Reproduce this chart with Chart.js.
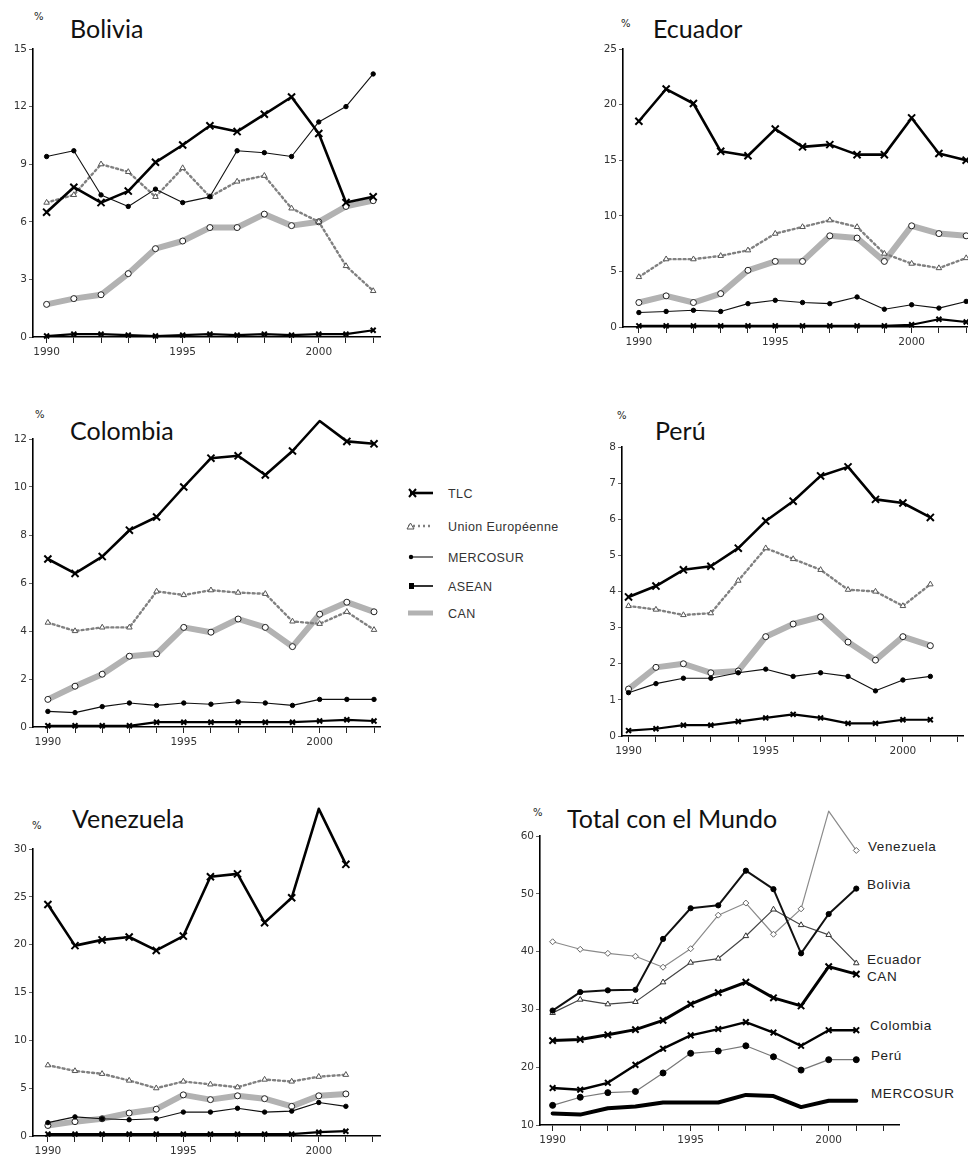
<!DOCTYPE html>
<html><head><meta charset="utf-8">
<script src="https://cdn.jsdelivr.net/npm/chart.js@4.4.1/dist/chart.umd.min.js"></script>
<style>
html,body{margin:0;padding:0;width:968px;height:1160px;overflow:hidden;background:#fff;position:relative;}
canvas{position:absolute;}
.t{position:absolute;font-family:Lato,'Open Sans',sans-serif;font-size:25px;color:#111;white-space:nowrap;line-height:1;}
.p{position:absolute;font-family:'DejaVu Sans',sans-serif;font-size:10px;color:#222;line-height:1;}
.lab{position:absolute;font-family:'Liberation Sans',Arial,sans-serif;font-size:13.5px;color:#222;white-space:nowrap;line-height:1;letter-spacing:0.6px;}
.lg{font-family:'Liberation Sans',Arial,sans-serif;font-size:12.5px;fill:#333;letter-spacing:0.4px;}
</style></head><body>

<div class="t" style="left:70px;top:16px">Bolivia</div>
<div class="t" style="left:653px;top:16px">Ecuador</div>
<div class="t" style="left:70px;top:418px">Colombia</div>
<div class="t" style="left:655px;top:418px">Perú</div>
<div class="t" style="left:72px;top:806px">Venezuela</div>
<div class="t" style="left:567px;top:806px">Total con el Mundo</div>

<div class="p" style="left:34px;top:12px">%</div>
<div class="p" style="left:621px;top:19px">%</div>
<div class="p" style="left:35px;top:410px">%</div>
<div class="p" style="left:617px;top:411px">%</div>
<div class="p" style="left:32px;top:821px">%</div>
<div class="p" style="left:533px;top:808px">%</div>

<div class="lab" style="left:868px;top:840px">Venezuela</div>
<div class="lab" style="left:867px;top:878px">Bolivia</div>
<div class="lab" style="left:867px;top:953px">Ecuador</div>
<div class="lab" style="left:867px;top:970px">CAN</div>
<div class="lab" style="left:870px;top:1019px">Colombia</div>
<div class="lab" style="left:871px;top:1049px">Perú</div>
<div class="lab" style="left:871px;top:1087px">MERCOSUR</div>

<svg style="position:absolute;left:400px;top:480px" width="168" height="145">
  <line x1="10" y1="13" x2="33" y2="13" stroke="#000" stroke-width="2.6"/>
  <path d="M9 9 L16 17 M16 9 L9 17" stroke="#000" stroke-width="2"/>
  <text class="lg" x="48" y="17.5">TLC</text>
  <line x1="8" y1="46" x2="33" y2="46" stroke="#808080" stroke-width="2.4" stroke-dasharray="2,3"/>
  <path d="M7 49 L10.5 43 L14 49 Z" fill="#fff" stroke="#555" stroke-width="1"/>
  <text class="lg" x="48" y="50.5">Union Européenne</text>
  <line x1="10" y1="77" x2="33" y2="77" stroke="#111" stroke-width="1.1"/>
  <circle cx="11" cy="77" r="2.2" fill="#000"/>
  <text class="lg" x="48" y="81.5">MERCOSUR</text>
  <line x1="10" y1="106" x2="33" y2="106" stroke="#000" stroke-width="1.6"/>
  <rect x="9" y="103" width="5" height="6" fill="#000"/>
  <text class="lg" x="48" y="110.5">ASEAN</text>
  <line x1="8" y1="133" x2="33" y2="133" stroke="#b2b2b2" stroke-width="5"/>
  <text class="lg" x="48" y="137.5">CAN</text>
</svg>

<script>
// ---------- data ----------
const years = [1990,1991,1992,1993,1994,1995,1996,1997,1998,1999,2000,2001,2002];
const xLabelYears = [1990,1995,2000];

// Bolivia
const bolTLC   = [6.5,7.8,7.0,7.6,9.1,10.0,11.0,10.7,11.6,12.5,10.6,7.0,7.3];
const bolUE    = [7.0,7.4,9.0,8.6,7.3,8.8,7.3,8.1,8.4,6.7,6.0,3.7,2.4];
const bolMER   = [9.4,9.7,7.4,6.8,7.7,7.0,7.3,9.7,9.6,9.4,11.2,12.0,13.7];
const bolASEAN = [0.05,0.15,0.15,0.1,0.05,0.1,0.15,0.1,0.15,0.1,0.15,0.15,0.35];
const bolCAN   = [1.7,2.0,2.2,3.3,4.6,5.0,5.7,5.7,6.4,5.8,6.0,6.8,7.1];

// Ecuador
const ecuTLC   = [18.5,21.4,20.1,15.8,15.4,17.8,16.2,16.4,15.5,15.5,18.8,15.6,15.0];
const ecuUE    = [4.5,6.1,6.1,6.4,6.9,8.4,9.0,9.6,9.0,6.6,5.7,5.3,6.2];
const ecuMER   = [1.3,1.4,1.5,1.4,2.1,2.4,2.2,2.1,2.7,1.6,2.0,1.7,2.3];
const ecuASEAN = [0.1,0.1,0.1,0.1,0.1,0.1,0.1,0.1,0.1,0.1,0.2,0.7,0.45];
const ecuCAN   = [2.2,2.8,2.2,3.0,5.1,5.9,5.9,8.2,8.0,5.9,9.1,8.4,8.2];

// Colombia
const colTLC   = [7.0,6.4,7.1,8.2,8.75,10.0,11.2,11.3,10.5,11.5,12.75,11.9,11.8];
const colUE    = [4.35,4.0,4.15,4.15,5.65,5.5,5.7,5.6,5.55,4.4,4.3,4.8,4.05];
const colMER   = [0.65,0.6,0.85,1.0,0.9,1.0,0.95,1.05,1.0,0.9,1.15,1.15,1.15];
const colASEAN = [0.05,0.05,0.05,0.05,0.2,0.2,0.2,0.2,0.2,0.2,0.25,0.3,0.25];
const colCAN   = [1.15,1.7,2.2,2.95,3.05,4.15,3.95,4.5,4.15,3.35,4.7,5.2,4.8];

// Perú (1990-2001)
const perTLC   = [3.85,4.15,4.6,4.7,5.2,5.95,6.5,7.2,7.45,6.55,6.45,6.05];
const perUE    = [3.6,3.5,3.35,3.4,4.3,5.2,4.9,4.6,4.05,4.0,3.6,4.2];
const perMER   = [1.2,1.45,1.6,1.6,1.75,1.85,1.65,1.75,1.65,1.25,1.55,1.65];
const perASEAN = [0.15,0.2,0.3,0.3,0.4,0.5,0.6,0.5,0.35,0.35,0.45,0.45];
const perCAN   = [1.3,1.9,2.0,1.75,1.8,2.75,3.1,3.3,2.6,2.1,2.75,2.5];

// Venezuela (1990-2001)
const venTLC   = [24.2,19.9,20.5,20.8,19.4,20.9,27.1,27.4,22.3,24.9,34.2,28.4];
const venUE    = [7.4,6.8,6.5,5.8,5.0,5.7,5.4,5.1,5.9,5.7,6.2,6.4];
const venMER   = [1.4,2.0,1.8,1.7,1.8,2.5,2.5,2.9,2.5,2.6,3.5,3.1];
const venASEAN = [0.2,0.2,0.2,0.2,0.2,0.2,0.2,0.2,0.2,0.2,0.4,0.5];
const venCAN   = [1.1,1.5,1.8,2.4,2.8,4.3,3.8,4.2,3.9,3.1,4.2,4.4];

// Total con el Mundo (1990-2001)
const totVenezuela = [41.7,40.4,39.7,39.2,37.3,40.5,46.3,48.4,43.0,47.4,64.3,57.5];
const totBolivia   = [29.8,33.0,33.3,33.4,42.2,47.5,48.0,54.0,50.8,39.7,46.5,50.9];
const totEcuador   = [29.4,31.7,30.9,31.3,34.7,38.1,38.8,42.7,47.3,44.6,42.9,38.0];
const totCAN       = [24.6,24.8,25.6,26.5,28.1,30.9,32.9,34.7,32.0,30.6,37.4,36.1];
const totColombia  = [16.4,16.1,17.3,20.4,23.2,25.5,26.6,27.8,26.0,23.7,26.4,26.4];
const totPeru      = [13.4,14.8,15.6,15.8,19.0,22.4,22.8,23.7,21.8,19.5,21.3,21.3];
const totMERCOSUR  = [12.0,11.8,12.9,13.2,13.9,13.9,13.9,15.2,15.0,13.1,14.2,14.2];

// ---------- styles ----------
const ST = {
  tlc:  {borderColor:'#000', borderWidth:2.6, pointStyle:'crossRot', pointRadius:5, pointBorderWidth:2, pointBorderColor:'#000', pointBackgroundColor:'#000'},
  ue:   {borderColor:'#808080', borderWidth:2.4, borderDash:[2,3], pointStyle:'triangle', pointRadius:3.2, pointBorderWidth:1, pointBorderColor:'#555', pointBackgroundColor:'#fff'},
  mer:  {borderColor:'#111', borderWidth:1.1, pointStyle:'circle', pointRadius:2.2, pointBackgroundColor:'#000', pointBorderColor:'#000', pointBorderWidth:1},
  asean:{borderColor:'#000', borderWidth:2.2, pointStyle:'crossRot', pointRadius:3.5, pointBorderWidth:2, pointBorderColor:'#000', pointBackgroundColor:'#000'},
  can:  {borderColor:'#b2b2b2', borderWidth:6, pointStyle:'circle', pointRadius:3, pointBackgroundColor:'#fff', pointBorderColor:'#222', pointBorderWidth:1},
  tVen: {borderColor:'#8a8a8a', borderWidth:1.2, pointStyle:'rectRot', pointRadius:3, pointBackgroundColor:'#fff', pointBorderColor:'#666', pointBorderWidth:1},
  tBol: {borderColor:'#111', borderWidth:2, pointStyle:'circle', pointRadius:2.6, pointBackgroundColor:'#000', pointBorderColor:'#000', pointBorderWidth:1},
  tEcu: {borderColor:'#444', borderWidth:1.2, pointStyle:'triangle', pointRadius:3.2, pointBackgroundColor:'#fff', pointBorderColor:'#333', pointBorderWidth:1},
  tCAN: {borderColor:'#000', borderWidth:3, pointStyle:'crossRot', pointRadius:4.5, pointBorderWidth:2, pointBorderColor:'#000'},
  tCol: {borderColor:'#000', borderWidth:2.4, pointStyle:'crossRot', pointRadius:4, pointBorderWidth:2, pointBorderColor:'#000'},
  tPer: {borderColor:'#777', borderWidth:1.2, pointStyle:'circle', pointRadius:3, pointBackgroundColor:'#000', pointBorderColor:'#000', pointBorderWidth:1},
  tMer: {borderColor:'#000', borderWidth:4, pointStyle:'circle', pointRadius:0}
};

function ds(label, values, style){
  return Object.assign({label, data: values.map((v,i)=>({x:years[i], y:v})), fill:false, tension:0, clip:false}, style);
}

const Y_W = 30, X_H = 26, PAD_R = 4;

function panel(area, xMin, xMax, tickYears, yMin, yMax, yStep, datasets, padTop){
  const c = document.createElement('canvas');
  const w = Math.round(Y_W + (area.r - area.l) + PAD_R);
  const h = Math.round(padTop + (area.b - area.t) + X_H);
  c.width = w; c.height = h;
  c.style.width = w + 'px'; c.style.height = h + 'px';
  c.style.left = Math.round(area.l - Y_W) + 'px';
  c.style.top = Math.round(area.t - padTop) + 'px';
  document.body.appendChild(c);
  new Chart(c, {
    type:'line',
    data:{datasets},
    options:{
      responsive:false, animation:false,
      layout:{padding:{top:padTop, right:PAD_R, left:0, bottom:0}},
      plugins:{legend:{display:false}, tooltip:{enabled:false}},
      elements:{line:{borderCapStyle:'round', borderJoinStyle:'round'}},
      scales:{
        x:{type:'linear', min:xMin, max:xMax,
           afterBuildTicks:s=>{ s.ticks = tickYears.map(v=>({value:v})); },
           afterFit:s=>{ s.height = X_H; },
           grid:{display:true, drawOnChartArea:false, drawTicks:true, tickLength:6, color:'#222', lineWidth:1},
           border:{display:true, color:'#000', width:1.6},
           ticks:{autoSkip:false, maxRotation:0, padding:3, color:'#333',
                  font:{family:'DejaVu Sans', size:10.5},
                  callback:v=> xLabelYears.includes(v) ? String(v) : ''}},
        y:{type:'linear', min:yMin, max:yMax,
           afterFit:s=>{ s.width = Y_W; },
           grid:{display:true, drawOnChartArea:false, drawTicks:true, tickLength:4, color:'#666', lineWidth:1},
           border:{display:true, color:'#000', width:1.6},
           ticks:{stepSize:yStep, padding:2, color:'#333', font:{family:'DejaVu Sans', size:10.5}}}
      }
    }
  });
}

const y13 = years;

panel({l:33,t:49.3,r:383,b:337.5}, 1989.5, 2002.25, y13, 0, 15, 3, [
  ds('TLC', bolTLC, ST.tlc), ds('MERCOSUR', bolMER, ST.mer), ds('Union Européenne', bolUE, ST.ue),
  ds('ASEAN', bolASEAN, ST.asean), ds('CAN', bolCAN, ST.can)], 20);

panel({l:623,t:49.3,r:985,b:327.7}, 1989.418, 2002.58, y13, 0, 25, 5, [
  ds('TLC', ecuTLC, ST.tlc), ds('MERCOSUR', ecuMER, ST.mer), ds('Union Européenne', ecuUE, ST.ue),
  ds('ASEAN', ecuASEAN, ST.asean), ds('CAN', ecuCAN, ST.can)], 20);

panel({l:33.3,t:439.3,r:383,b:727.7}, 1989.453, 2002.22, y13, 0, 12, 2, [
  ds('TLC', colTLC, ST.tlc), ds('MERCOSUR', colMER, ST.mer), ds('Union Européenne', colUE, ST.ue),
  ds('ASEAN', colASEAN, ST.asean), ds('CAN', colCAN, ST.can)], 20);

panel({l:621.7,t:446.7,r:966,b:736}, 1989.762, 2002.19, y13, 0, 8, 1, [
  ds('TLC', perTLC, ST.tlc), ds('MERCOSUR', perMER, ST.mer), ds('Union Européenne', perUE, ST.ue),
  ds('ASEAN', perASEAN, ST.asean), ds('CAN', perCAN, ST.can)], 20);

panel({l:33.3,t:849.3,r:383,b:1136.7}, 1989.45, 2002.26, y13, 0, 30, 5, [
  ds('TLC', venTLC, ST.tlc), ds('MERCOSUR', venMER, ST.mer), ds('Union Européenne', venUE, ST.ue),
  ds('ASEAN', venASEAN, ST.asean), ds('CAN', venCAN, ST.can)], 50);

panel({l:540,t:835.7,r:902,b:1125}, 1989.543, 2002.565, y13, 10, 60, 10, [
  ds('CAN', totCAN, ST.tCAN), ds('Bolivia', totBolivia, ST.tBol), ds('Colombia', totColombia, ST.tCol),
  ds('MERCOSUR', totMERCOSUR, ST.tMer), ds('Perú', totPeru, ST.tPer), ds('Ecuador', totEcuador, ST.tEcu),
  ds('Venezuela', totVenezuela, ST.tVen)], 40);
</script>
</body></html>
